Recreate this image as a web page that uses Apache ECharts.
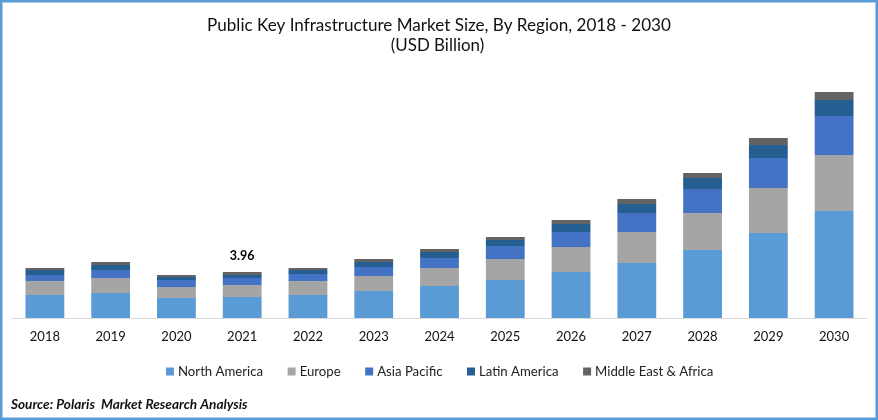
<!DOCTYPE html>
<html>
<head>
<meta charset="utf-8">
<style>
  html, body { margin: 0; padding: 0; background: #fff; }
  #chart { width: 878px; height: 420px; }
</style>
<script src="https://cdn.jsdelivr.net/npm/echarts@6/dist/echarts.min.js"></script>
</head>
<body>
<div id="chart"></div>
<script>
var years = ['2018', '2019', '2020', '2021', '2022', '2023', '2024', '2025', '2026', '2027', '2028', '2029', '2030'];

var northAmerica = [1.98, 2.16, 1.72, 1.81, 1.98, 2.33, 2.76, 3.28, 3.97, 4.74, 5.86, 7.33, 9.22];
var europe = [1.21, 1.29, 0.95, 1.03, 1.21, 1.29, 1.55, 1.81, 2.16, 2.67, 3.19, 3.88, 4.83];
var asiaPacific = [0.52, 0.69, 0.60, 0.60, 0.60, 0.78, 0.86, 1.12, 1.29, 1.64, 2.07, 2.59, 3.36];
var latinAmerica = [0.43, 0.43, 0.26, 0.26, 0.34, 0.43, 0.52, 0.52, 0.69, 0.78, 0.95, 1.12, 1.38];
var middleEast = [0.17, 0.26, 0.17, 0.26, 0.17, 0.26, 0.26, 0.26, 0.34, 0.43, 0.43, 0.60, 0.69];

// only 2021 carries a total label in the original
var totalLabels = ['', '', '', '3.96', '', '', '', '', '', '', '', '', ''];

var fontName = 'Lato, "Open Sans", sans-serif';

function stackSeries(name, values, color) {
  return {
    name: name,
    type: 'bar',
    stack: 'total',
    barWidth: '59%',
    data: values,
    itemStyle: { color: color }
  };
}

var series = [
  stackSeries('North America', northAmerica, '#5B9BD5'),
  stackSeries('Europe', europe, '#A5A5A5'),
  stackSeries('Asia Pacific', asiaPacific, '#4472C4'),
  stackSeries('Latin America', latinAmerica, '#255E91'),
  stackSeries('Middle East & Africa', middleEast, '#636363')
];
series[4].label = {
  show: true,
  position: 'top',
  distance: 10,
  fontFamily: fontName,
  fontWeight: 'bold',
  fontSize: 12.5,
  color: '#000',
  formatter: function (p) { return totalLabels[p.dataIndex]; }
};

var chart = echarts.init(document.getElementById('chart'), null, { renderer: 'canvas' });
chart.setOption({
  animation: false,
  backgroundColor: '#fff',
  title: [
    {
      text: 'Public Key Infrastructure Market Size, By Region, 2018 - 2030',
      left: 434, top: 12, textAlign: 'center',
      textStyle: { fontFamily: fontName, fontWeight: 'normal', fontSize: 17.1, color: '#111' }
    },
    {
      text: '(USD Billion)',
      left: 432.5, top: 32, textAlign: 'center',
      textStyle: { fontFamily: fontName, fontWeight: 'normal', fontSize: 16.9, color: '#111' }
    },
    {
      text: 'Source: Polaris  Market Research Analysis',
      left: 6, top: 393,
      textStyle: { fontFamily: fontName, fontWeight: 'bold', fontStyle: 'italic', fontSize: 13.6, color: '#111' }
    }
  ],
  legend: {
    left: 161, top: 360,
    itemWidth: 8, itemHeight: 8, itemGap: 24.5,
    icon: 'rect',
    textStyle: { fontFamily: fontName, fontSize: 13.2, color: '#222', padding: [0, 0, 0, -1] },
    data: series.map(function (s) { return s.name; })
  },
  grid: { left: 12, right: 11, top: 86, height: 232 },
  xAxis: {
    type: 'category',
    data: years,
    axisTick: { show: false },
    axisLine: { lineStyle: { color: '#D9D9D9', width: 1 } },
    axisLabel: { margin: 12, fontFamily: fontName, fontSize: 13, color: '#111' }
  },
  yAxis: { type: 'value', min: 0, max: 20, show: false, splitLine: { show: false } },
  series: series,
  graphic: [{
    type: 'rect',
    silent: true,
    shape: { x: 1, y: 1, width: 876, height: 418 },
    style: { fill: 'none', stroke: '#5B9BD5', lineWidth: 3 }
  }]
});
</script>
</body>
</html>
